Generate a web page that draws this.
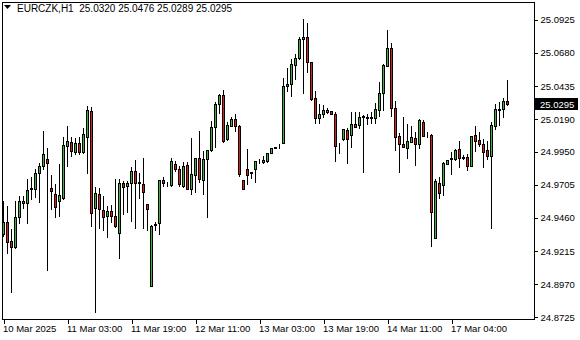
<!DOCTYPE html>
<html>
<head>
<meta charset="utf-8">
<script src="https://cdn.jsdelivr.net/npm/d3@7"></script>
<style>
  body { margin: 0; background: #fff; }
  text { font-family: "Liberation Sans", Arial, sans-serif; }
</style>
</head>
<body>
<script>
const width = 580;
const height = 340;

// EURCZK H1 bars
const opens = [
  24.9334, 24.9423, 24.9285, 24.9238, 24.9460, 24.9568, 24.9568, 24.9667, 24.9672, 24.9790,
  24.9837, 24.9891, 24.9677, 24.9632, 24.9578, 24.9605, 24.9990, 25.0017, 24.9943, 25.0010,
  24.9945, 25.0052, 25.0247, 24.9527, 24.9632, 24.9512, 24.9467, 24.9507, 24.9470, 24.9346,
  24.9714, 24.9694, 24.9716, 24.9803, 24.9717, 24.9704, 24.9556, 24.8954, 24.9405, 24.9416,
  24.9736, 24.9704, 24.9699, 24.9854, 24.9817, 24.9694, 24.9845, 24.9672, 24.9771, 24.9897,
  24.9738, 24.9891, 24.9956, 25.0130, 25.0296, 25.0365, 25.0039, 25.0138, 25.0187, 25.0138,
  24.9736, 24.9817, 24.9795, 24.9815, 24.9875, 24.9871, 24.9879, 24.9934, 24.9973, 24.9980,
  25.0012, 25.0434, 25.0446, 25.0587, 25.0641, 25.0777, 25.0792, 25.0607, 25.0341, 25.0197,
  25.0222, 25.0241, 25.0244, 25.0222, 24.9956, 25.0037, 25.0106, 25.0067, 25.0148, 25.0141,
  25.0202, 25.0198, 25.0204, 25.0193, 25.0254, 25.0378, 25.0580, 25.0711, 25.0267, 25.0059,
  25.0000, 24.9975, 25.0019, 25.0045, 25.0000, 25.0165, 25.0071, 25.0067, 24.9305, 24.9712,
  24.9697, 24.9857, 24.9892, 24.9891, 24.9963, 24.9903, 24.9904, 24.9842, 25.0067, 25.0032,
  25.0000, 24.9958, 24.9916, 25.0138, 25.0257, 25.0259, 25.0320
];
const highs = [
  24.9581, 24.9544, 24.9371, 24.9581, 24.9618, 24.9618, 24.9743, 24.9756, 24.9815, 24.9860,
  25.0099, 24.9971, 24.9773, 24.9704, 24.9854, 25.0056, 25.0136, 25.0056, 25.0049, 25.0056,
  25.0123, 25.0286, 25.0278, 24.9682, 24.9679, 24.9618, 24.9546, 24.9551, 24.9741, 24.9743,
  24.9731, 24.9731, 24.9834, 24.9884, 24.9790, 24.9899, 24.9556, 24.9403, 24.9423, 24.9736,
  24.9756, 24.9719, 24.9899, 24.9877, 24.9840, 24.9869, 24.9869, 25.0047, 24.9897, 25.0099,
  24.9951, 24.9956, 25.0173, 25.0311, 25.0370, 25.0402, 25.0167, 25.0204, 25.0224, 25.0143,
  24.9736, 24.9963, 24.9797, 24.9877, 24.9891, 24.9911, 24.9938, 24.9971, 24.9980, 25.0002,
  25.0489, 25.0563, 25.0631, 25.0671, 25.0796, 25.0927, 25.0900, 25.0607, 25.0395, 25.0296,
  25.0291, 25.0271, 25.0244, 25.0241, 25.0008, 25.0111, 25.0119, 25.0237, 25.0237, 25.0241,
  25.0215, 25.0222, 25.0237, 25.0304, 25.0459, 25.0592, 25.0846, 25.0748, 25.0321, 25.0084,
  25.0202, 25.0148, 25.0136, 25.0093, 25.0185, 25.0180, 25.0089, 25.0079, 24.9743, 24.9760,
  24.9867, 24.9884, 24.9941, 24.9965, 25.0027, 24.9921, 24.9926, 25.0059, 25.0136, 25.0089,
  25.0039, 25.0027, 25.0163, 25.0298, 25.0315, 25.0341, 25.0476
];
const lows = [
  24.9325, 24.9194, 24.8905, 24.9231, 24.9416, 24.9527, 24.9416, 24.9598, 24.9612, 24.9575,
  24.9817, 24.9070, 24.9521, 24.9464, 24.9470, 24.9593, 24.9842, 24.9916, 24.9926, 24.9928,
  24.9934, 24.9786, 24.9398, 24.8761, 24.9379, 24.9366, 24.9316, 24.9427, 24.9390, 24.9161,
  24.9484, 24.9497, 24.9433, 24.9379, 24.9605, 24.9383, 24.9366, 24.8954, 24.9366, 24.9334,
  24.9694, 24.9694, 24.9694, 24.9803, 24.9694, 24.9686, 24.9672, 24.9630, 24.9649, 24.9723,
  24.9635, 24.9464, 24.9953, 24.9982, 25.0230, 25.0019, 25.0032, 25.0138, 25.0099, 24.9766,
  24.9672, 24.9706, 24.9753, 24.9723, 24.9860, 24.9864, 24.9871, 24.9934, 24.9971, 24.9971,
  25.0008, 25.0397, 25.0360, 25.0481, 25.0631, 25.0378, 25.0537, 25.0330, 25.0160, 25.0156,
  25.0204, 25.0230, 25.0222, 24.9879, 24.9938, 25.0032, 24.9864, 24.9982, 25.0126, 25.0119,
  24.9797, 25.0148, 25.0156, 25.0156, 25.0210, 25.0254, 25.0580, 25.0212, 24.9958, 24.9797,
  24.9978, 24.9901, 25.0019, 24.9847, 24.9971, 25.0064, 25.0056, 24.9250, 24.9305, 24.9605,
  24.9625, 24.9857, 24.9780, 24.9884, 24.9834, 24.9891, 24.9810, 24.9842, 24.9953, 24.9988,
  24.9834, 24.9891, 24.9383, 25.0113, 25.0143, 25.0204, 25.0289
];
const closes = [
  24.9423, 24.9275, 24.9238, 24.9462, 24.9581, 24.9581, 24.9662, 24.9677, 24.9788, 24.9840,
  24.9928, 24.9864, 24.9657, 24.9534, 24.9625, 24.9995, 25.0025, 24.9953, 25.0010, 24.9945,
  25.0076, 25.0254, 24.9494, 24.9640, 24.9519, 24.9460, 24.9504, 24.9472, 24.9398, 24.9712,
  24.9686, 24.9714, 24.9803, 24.9716, 24.9721, 24.9649, 24.9519, 24.9396, 24.9410, 24.9736,
  24.9712, 24.9708, 24.9877, 24.9815, 24.9704, 24.9837, 24.9672, 24.9778, 24.9897, 24.9746,
  24.9891, 24.9956, 25.0128, 25.0298, 25.0365, 25.0027, 25.0143, 25.0187, 25.0138, 24.9780,
  24.9672, 24.9775, 24.9790, 24.9877, 24.9879, 24.9886, 24.9934, 24.9971, 24.9977, 24.9984,
  25.0434, 25.0446, 25.0592, 25.0641, 25.0777, 25.0792, 25.0607, 25.0338, 25.0193, 25.0222,
  25.0254, 25.0256, 25.0222, 24.9990, 24.9960, 25.0111, 25.0042, 25.0148, 25.0130, 25.0204,
  25.0206, 25.0202, 25.0193, 25.0259, 25.0378, 25.0587, 25.0711, 25.0267, 25.0056, 25.0000,
  24.9982, 25.0025, 25.0054, 25.0000, 25.0180, 25.0064, 25.0067, 24.9501, 24.9726, 24.9642,
  24.9860, 24.9884, 24.9896, 24.9958, 24.9901, 24.9899, 24.9842, 25.0059, 25.0027, 25.0005,
  24.9945, 24.9916, 25.0143, 25.0259, 25.0261, 25.0318, 25.0295
];

const priceTicks = [25.0925, 25.0680, 25.0435, 25.0190, 24.9950, 24.9705, 24.9460, 24.9215, 24.8970, 24.8725];
const timeTickBars = [0, 16, 32, 48, 64, 80, 96, 112];
const timeTickLabels = ["10 Mar 2025", "11 Mar 03:00", "11 Mar 19:00", "12 Mar 11:00",
  "13 Mar 03:00", "13 Mar 19:00", "14 Mar 11:00", "17 Mar 04:00"];

const symbol = "EURCZK,H1";
const lastPrice = 25.0295;

const bullColor = "#3cb43c";
const bearColor = "#dc1e1e";

let frame = { left: 2, top: 2, right: 534, bottom: 319 };

let svg = d3
  .select("body")
  .append("svg")
  .attr("width", width)
  .attr("height", height)
  .style("shape-rendering", "crispEdges");

let bars = opens.map((o, i) => ({
  i: i,
  open: o,
  high: highs[i],
  low: lows[i],
  close: closes[i],
}));

let xScale = d3
  .scaleLinear()
  .domain([0, bars.length - 1])
  .range([3.5, 3.5 + 4 * (bars.length - 1)]);

let yScale = d3
  .scaleLinear()
  .domain([24.8725, 25.0925])
  .range([316.7, 19.3]);

// frame
svg
  .append("rect")
  .attr("x", frame.left + 0.5)
  .attr("y", frame.top + 0.5)
  .attr("width", frame.right - frame.left)
  .attr("height", frame.bottom - frame.top)
  .attr("fill", "none")
  .attr("stroke", "#000");

// candles
let candles = svg.append("g").attr("id", "candles");

candles
  .selectAll("line")
  .data(bars)
  .join("line")
  .attr("x1", (d) => xScale(d.i))
  .attr("x2", (d) => xScale(d.i))
  .attr("y1", (d) => Math.round(yScale(d.high)))
  .attr("y2", (d) => Math.round(yScale(d.low)) + 1)
  .attr("stroke", "#000");

candles
  .selectAll("rect")
  .data(bars)
  .join("rect")
  .attr("x", (d) => xScale(d.i) - 1)
  .attr("y", (d) => Math.round(yScale(Math.max(d.open, d.close))) + 0.5)
  .attr("width", 2)
  .attr("height", (d) =>
    Math.max(0, Math.round(yScale(Math.min(d.open, d.close))) - Math.round(yScale(Math.max(d.open, d.close))))
  )
  .attr("fill", (d) => (d.close >= d.open ? bullColor : bearColor))
  .attr("stroke", "#000");

// price axis
let rightAxis = d3
  .axisRight(yScale)
  .tickValues(priceTicks)
  .tickSize(3)
  .tickPadding(3)
  .tickFormat(d3.format(".4f"));

let rightContainer = svg
  .append("g")
  .attr("id", "right-container")
  .attr("transform", `translate(${frame.right + 0.5}, 0.5)`)
  .call(rightAxis);

rightContainer.select(".domain").remove();
rightContainer
  .selectAll("text")
  .attr("font-size", 9.5)
  .attr("font-family", '"Liberation Sans", Arial, sans-serif')
  .attr("fill", "#000");

// time axis
let bottomAxis = d3
  .axisBottom(xScale)
  .tickValues(timeTickBars)
  .tickSize(4)
  .tickPadding(2)
  .tickFormat((d, i) => timeTickLabels[i]);

let bottomContainer = svg
  .append("g")
  .attr("id", "bottom-container")
  .attr("transform", `translate(0, ${frame.bottom + 0.5})`)
  .call(bottomAxis);

bottomContainer.select(".domain").remove();
bottomContainer
  .selectAll("text")
  .attr("text-anchor", "start")
  .attr("x", -1)
  .attr("font-size", 9.5)
  .attr("font-family", '"Liberation Sans", Arial, sans-serif')
  .attr("fill", "#000");

// last price marker
let lastY = Math.round(yScale(lastPrice));
svg
  .append("rect")
  .attr("x", frame.right + 1)
  .attr("y", lastY - 6)
  .attr("width", 43)
  .attr("height", 12)
  .attr("fill", "#000");

svg
  .append("text")
  .attr("x", frame.right + 6)
  .attr("y", lastY + 3.5)
  .attr("font-size", 9.5)
  .attr("fill", "#fff")
  .text(d3.format(".4f")(lastPrice));

// title
svg
  .append("path")
  .attr("d", "M4,5 L11,5 L7.5,9 Z")
  .attr("fill", "#000")
  .style("shape-rendering", "auto");

svg
  .append("text")
  .attr("x", 17)
  .attr("y", 11.5)
  .attr("font-size", 10)
  .attr("fill", "#000")
  .attr("xml:space", "preserve")
  .style("white-space", "pre")
  .text(
    `${symbol}  ${d3.format(".4f")(opens[opens.length - 1])} ${d3.format(".4f")(highs[highs.length - 1])} ` +
      `${d3.format(".4f")(lows[lows.length - 1])} ${d3.format(".4f")(closes[closes.length - 1])}`
  );
</script>
</body>
</html>
